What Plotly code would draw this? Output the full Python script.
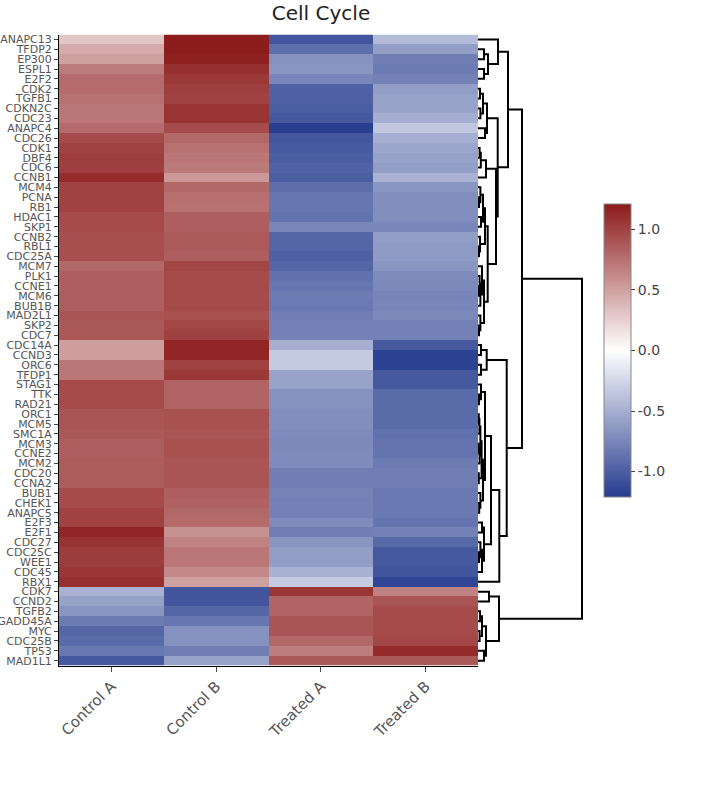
import plotly.graph_objects as go

# ---------------- data ----------------
genes = ["ANAPC13", "TFDP2", "EP300", "ESPL1", "E2F2", "CDK2", "TGFB1", "CDKN2C",
         "CDC23", "ANAPC4", "CDC26", "CDK1", "DBF4", "CDC6", "CCNB1", "MCM4",
         "PCNA", "RB1", "HDAC1", "SKP1", "CCNB2", "RBL1", "CDC25A", "MCM7",
         "PLK1", "CCNE1", "MCM6", "BUB1B", "MAD2L1", "SKP2", "CDC7", "CDC14A",
         "CCND3", "ORC6", "TFDP1", "STAG1", "TTK", "RAD21", "ORC1", "MCM5",
         "SMC1A", "MCM3", "CCNE2", "MCM2", "CDC20", "CCNA2", "BUB1", "CHEK1",
         "ANAPC5", "E2F3", "E2F1", "CDC27", "CDC25C", "WEE1", "CDC45", "RBX1",
         "CDK7", "CCND2", "TGFB2", "GADD45A", "MYC", "CDC25B", "TP53", "MAD1L1"]

samples = ["Control A", "Control B", "Treated A", "Treated B"]

control_a = [0.30, 0.45, 0.50, 0.70, 0.78, 0.78, 0.75, 0.72, 0.72, 0.78, 0.95, 1.00,
             1.02, 1.02, 1.12, 1.00, 1.00, 1.00, 0.95, 0.95, 0.93, 0.93, 0.93, 0.80,
             0.85, 0.85, 0.85, 0.85, 0.90, 0.88, 0.88, 0.52, 0.52, 0.72, 0.72, 0.95,
             0.95, 0.95, 0.90, 0.90, 0.88, 0.85, 0.85, 0.86, 0.86, 0.86, 0.95, 0.95,
             1.00, 1.00, 1.15, 1.08, 1.03, 1.03, 1.06, 1.10,
             -0.48, -0.58, -0.65, -0.82, -0.95, -0.92, -0.84, -1.03]
control_b = [1.20, 1.20, 1.18, 1.10, 1.05, 1.02, 1.00, 1.07, 1.07, 0.95, 0.80, 0.75,
             0.72, 0.70, 0.55, 0.80, 0.76, 0.75, 0.85, 0.85, 0.87, 0.87, 0.85, 0.98,
             0.95, 0.95, 0.95, 0.95, 0.92, 0.98, 1.00, 1.15, 1.15, 1.00, 1.05, 0.82,
             0.82, 0.82, 0.92, 0.92, 0.90, 0.92, 0.92, 0.90, 0.90, 0.90, 0.85, 0.83,
             0.80, 0.78, 0.58, 0.66, 0.72, 0.72, 0.63, 0.50,
             -1.05, -1.05, -0.95, -0.85, -0.68, -0.68, -0.80, -0.58]
treated_a = [-1.05, -0.90, -0.68, -0.65, -0.75, -0.98, -0.98, -1.00, -1.03, -1.20, -1.05, -1.02,
             -1.00, -0.97, -1.00, -0.90, -0.85, -0.85, -0.87, -0.75, -0.95, -0.95, -0.98, -0.95,
             -0.88, -0.85, -0.82, -0.83, -0.80, -0.78, -0.78, -0.50, -0.33, -0.33, -0.58, -0.58,
             -0.68, -0.68, -0.70, -0.70, -0.72, -0.73, -0.72, -0.72, -0.80, -0.80, -0.77, -0.78,
             -0.78, -0.72, -0.80, -0.66, -0.60, -0.60, -0.48, -0.33,
             1.06, 0.82, 0.82, 0.90, 0.90, 0.80, 0.68, 0.88]
treated_b = [-0.42, -0.60, -0.80, -0.82, -0.78, -0.60, -0.58, -0.57, -0.50, -0.35, -0.50, -0.55,
             -0.58, -0.60, -0.48, -0.65, -0.70, -0.70, -0.70, -0.75, -0.60, -0.62, -0.62, -0.65,
             -0.72, -0.73, -0.76, -0.75, -0.73, -0.78, -0.78, -1.03, -1.18, -1.18, -1.03, -1.03,
             -0.92, -0.92, -0.92, -0.92, -0.88, -0.86, -0.86, -0.82, -0.80, -0.80, -0.83, -0.83,
             -0.83, -0.86, -0.78, -0.93, -1.03, -1.03, -1.05, -1.15,
             0.66, 0.90, 0.95, 0.95, 0.95, 0.98, 1.12, 0.88]

# dendrogram merges: (node name, left child, right child, merge height)
merges = [
    ("s1a", "TFDP2", "EP300", 0.30), ("s1b", "ESPL1", "E2F2", 0.30),
    ("s1c", "s1a", "s1b", 0.50), ("sub1", "ANAPC13", "s1c", 1.00),
    ("c1", "CDK2", "TGFB1", 0.10), ("c2", "CDKN2C", "CDC23", 0.12),
    ("c3", "c1", "c2", 0.25), ("c4", "ANAPC4", "CDC26", 0.35),
    ("sub2a", "c3", "c4", 0.45),
    ("d1", "CDK1", "DBF4", 0.08), ("d2", "d1", "CDC6", 0.14),
    ("Qa", "d2", "CCNB1", 0.40),
    ("e1", "PCNA", "RB1", 0.05), ("e2", "MCM4", "e1", 0.12),
    ("e3", "HDAC1", "SKP1", 0.15), ("e4", "e2", "e3", 0.25),
    ("e5", "RBL1", "CDC25A", 0.05), ("e6", "CCNB2", "e5", 0.10),
    ("e7", "e4", "e6", 0.35),
    ("f1", "CCNE1", "MCM6", 0.05), ("f2", "PLK1", "f1", 0.08),
    ("f3", "f2", "BUB1B", 0.12), ("f4", "MCM7", "f3", 0.20),
    ("f5", "SKP2", "CDC7", 0.05), ("f6", "MAD2L1", "f5", 0.12),
    ("f7", "f4", "f6", 0.30),
    ("Qb", "e7", "f7", 0.485), ("Q", "Qa", "Qb", 0.90),
    ("P", "sub2a", "Q", 0.985), ("A", "sub1", "P", 1.50),
    ("g1", "CDC14A", "CCND3", 0.15), ("g2", "ORC6", "TFDP1", 0.15),
    ("B1", "g1", "g2", 0.435),
    ("h1", "TTK", "RAD21", 0.05), ("h2", "STAG1", "h1", 0.15),
    ("h3", "ORC1", "MCM5", 0.04), ("h4", "h3", "SMC1A", 0.07),
    ("h5", "MCM3", "CCNE2", 0.04), ("h6", "h5", "MCM2", 0.08),
    ("h7", "h4", "h6", 0.12), ("h8", "CDC20", "CCNA2", 0.04),
    ("h9", "h7", "h8", 0.18), ("h10", "CHEK1", "ANAPC5", 0.06),
    ("h11", "BUB1", "h10", 0.12), ("h12", "h9", "h11", 0.25),
    ("h13", "h2", "h12", 0.35),
    ("i1", "E2F3", "E2F1", 0.20), ("i2", "CDC25C", "WEE1", 0.05),
    ("i3", "CDC27", "i2", 0.12), ("i4", "i3", "CDC45", 0.20),
    ("i5", "i1", "i4", 0.30),
    ("B2a", "h13", "i5", 0.65), ("B2", "B2a", "RBX1", 1.065),
    ("B", "B1", "B2", 1.435), ("AB", "A", "B", 2.20),
    ("j1", "CDK7", "CCND2", 0.55), ("j2", "TGFB2", "GADD45A", 0.10),
    ("j3", "MYC", "CDC25B", 0.08), ("j4", "j2", "j3", 0.20),
    ("j5", "TP53", "MAD1L1", 0.30), ("j6", "j4", "j5", 0.40),
    ("C", "j1", "j6", 1.05), ("root", "AB", "C", 5.20),
]

# ---------------- build ----------------
W, H = 708, 792
z = [list(r) for r in zip(control_a, control_b, treated_a, treated_b)]
rows = list(range(len(genes)))

pos = {g: (0.0, float(i)) for i, g in enumerate(genes)}  # (height, y)
dx, dy = [], []
for name, l, r, h in merges:
    hl, yl = pos[l]
    hr, yr = pos[r]
    dx += [hl, h, h, hr, None]
    dy += [yl, yl, yr, yr, None]
    pos[name] = (h, (yl + yr) / 2)

colorscale = [[0.0, "rgb(38,60,142)"], [0.5, "rgb(255,255,255)"], [1.0, "rgb(140,26,26)"]]

def fx(px):
    return px / W

def fy(py):
    return 1 - py / H

x0, x1 = fx(59), fx(478)
ytop, ybot = fy(34.5), fy(665.6)

fig = go.Figure()
fig.add_trace(go.Heatmap(
    z=z, x=samples, y=rows, colorscale=colorscale, zmin=-1.21, zmax=1.21,
    xaxis="x", yaxis="y",
    colorbar=dict(
        x=fx(604), xanchor="left", xpad=0, y=fy(350.5), yanchor="middle",
        len=293 / H, lenmode="fraction", thickness=27, ypad=0,
        outlinecolor="#888", outlinewidth=1,
        tickmode="array", tickvals=[-1.0, -0.5, 0.0, 0.5, 1.0],
        ticktext=["-1.0", "-0.5", "0.0", "0.5", "1.0"],
        ticks="outside", ticklen=4, tickcolor="#444",
        tickfont=dict(family="DejaVu Sans", size=14, color="#444"),
    ),
))
fig.add_trace(go.Scatter(
    x=dx, y=dy, mode="lines", xaxis="x2", yaxis="y",
    line=dict(color="black", width=2), hoverinfo="skip", showlegend=False,
))

fig.update_layout(
    width=W, height=H,
    margin=dict(l=0, r=0, t=0, b=0),
    paper_bgcolor="white", plot_bgcolor="white",
    showlegend=False,
    font=dict(family="DejaVu Sans", color="#444"),
    title=dict(text="Cell Cycle", x=fx(321), xanchor="center", y=fy(13),
               yanchor="middle", font=dict(family="DejaVu Sans", size=20, color="#222")),
    xaxis=dict(domain=[x0, x1], anchor="y", automargin=False, tickangle=-45,
               ticks="outside", ticklen=5, tickcolor="#444",
               showline=True, linecolor="black", linewidth=1,
               tickfont=dict(family="DejaVu Sans", size=15, color="#555"),
               showgrid=False, zeroline=False),
    yaxis=dict(domain=[ybot, ytop], anchor="x", automargin=False,
               range=[len(genes) - 0.5, -0.5],
               tickmode="array", tickvals=rows, ticktext=genes,
               ticks="outside", ticklen=4, tickcolor="#444",
               showline=True, linecolor="black", linewidth=1,
               tickfont=dict(family="DejaVu Sans", size=11, color="#555"),
               showgrid=False, zeroline=False),
    xaxis2=dict(domain=[x1, 1.0], anchor="y", range=[0, (W - 478) / 20],
                visible=False, showgrid=False, zeroline=False),
)

fig.write_html("out.html", config={"displayModeBar": False},
               post_script="document.body.style.margin='0';")
